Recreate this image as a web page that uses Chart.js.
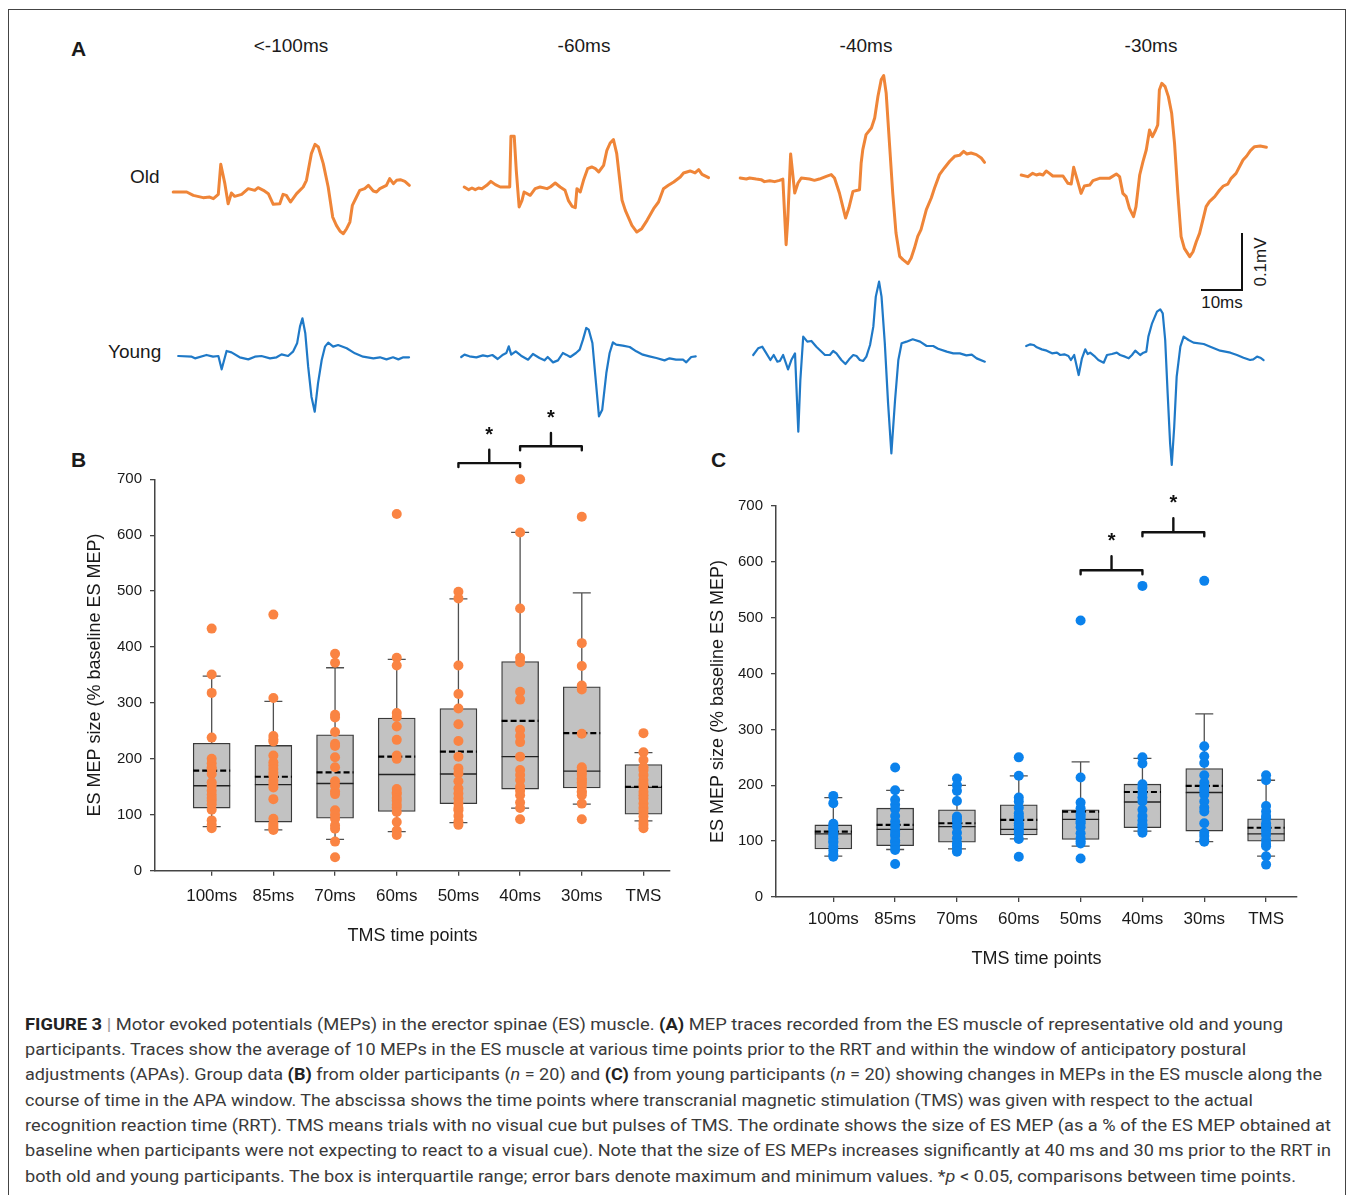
<!DOCTYPE html>
<html>
<head>
<meta charset="utf-8">
<script src="https://cdn.jsdelivr.net/npm/chart.js@4.4.1/dist/chart.umd.min.js"></script>
<style>
html, body { margin: 0; padding: 0; background: #fff; }
body { width: 1354px; height: 1195px; position: relative; overflow: hidden; font-family: 'Liberation Sans', Arial, sans-serif; color: #1a1a1a; }
.frame { position: absolute; left: 8px; top: 9px; width: 1336px; height: 1300px; border: 1.5px solid #444; }
.t { position: absolute; white-space: nowrap; line-height: 1; }
.c { transform: translate(-50%, -50%); }
.l { transform: translate(0, -50%); }
canvas { position: absolute; }
.bar { position: absolute; background: #111; }
.cap { position: absolute; left: 25px; white-space: nowrap; line-height: 1; font-family: 'Liberation Sans Narrow', 'Roboto', sans-serif; font-size: 17px; color: #3a3a3a; transform-origin: 0 50%; }
.cap b { color: #222; }
</style>
</head>
<body>
<div class="frame"></div>

<div class="t l" style="left:71px;top:48px;font-size:21px;font-weight:bold">A</div>
<div class="t l" style="left:71px;top:459px;font-size:21px;font-weight:bold">B</div>
<div class="t l" style="left:711px;top:459px;font-size:21px;font-weight:bold">C</div>

<div class="t c" style="left:291px;top:45px;font-size:19px">&lt;-100ms</div>
<div class="t c" style="left:584px;top:45px;font-size:19px">-60ms</div>
<div class="t c" style="left:866px;top:45px;font-size:19px">-40ms</div>
<div class="t c" style="left:1151px;top:45px;font-size:19px">-30ms</div>
<div class="t l" style="left:130px;top:176px;font-size:19px">Old</div>
<div class="t l" style="left:108px;top:351px;font-size:19px">Young</div>

<div class="bar" style="left:1241px;top:233px;width:2px;height:58px"></div>
<div class="bar" style="left:1201px;top:289px;width:42px;height:2px"></div>
<div class="t c" style="left:1222px;top:302px;font-size:17px">10ms</div>
<div class="t" style="left:1260px;top:262px;font-size:17px;transform:translate(-50%,-50%) rotate(-90deg)">0.1mV</div>

<canvas id="o1" width="260" height="260" style="left:165px;top:62px"></canvas>
<canvas id="y1" width="260" height="260" style="left:170px;top:226px"></canvas>
<canvas id="o2" width="260" height="260" style="left:456px;top:57px"></canvas>
<canvas id="y2" width="260" height="260" style="left:453px;top:227px"></canvas>
<canvas id="o3" width="260" height="260" style="left:732px;top:48px"></canvas>
<canvas id="y3" width="260" height="260" style="left:745px;top:225px"></canvas>
<canvas id="o4" width="260" height="260" style="left:1013px;top:45px"></canvas>
<canvas id="y4" width="260" height="260" style="left:1018px;top:216px"></canvas>

<canvas id="chartB" width="660" height="580" style="left:40px;top:390px"></canvas>
<canvas id="chartC" width="680" height="570" style="left:660px;top:420px"></canvas>

<div class="cap" style="top:1016px"><b>FIGURE 3</b> <span style="color:#999">|</span> Motor evoked potentials (MEPs) in the erector spinae (ES) muscle. <b>(A)</b> MEP traces recorded from the ES muscle of representative old and young</div>
<div class="cap" style="top:1041px">participants. Traces show the average of 10 MEPs in the ES muscle at various time points prior to the RRT and within the window of anticipatory postural</div>
<div class="cap" style="top:1066px">adjustments (APAs). Group data <b>(B)</b> from older participants (<i>n</i> = 20) and <b>(C)</b> from young participants (<i>n</i> = 20) showing changes in MEPs in the ES muscle along the</div>
<div class="cap" style="top:1092px">course of time in the APA window. The abscissa shows the time points where transcranial magnetic stimulation (TMS) was given with respect to the actual</div>
<div class="cap" style="top:1117px">recognition reaction time (RRT). TMS means trials with no visual cue but pulses of TMS. The ordinate shows the size of ES MEP (as a % of the ES MEP obtained at</div>
<div class="cap" style="top:1142px">baseline when participants were not expecting to react to a visual cue). Note that the size of ES MEPs increases significantly at 40 ms and 30 ms prior to the RRT in</div>
<div class="cap" style="top:1168px">both old and young participants. The box is interquartile range; error bars denote maximum and minimum values. *<i>p</i> &lt; 0.05, comparisons between time points.</div>

<script>
// ---- panel A: MEP traces, [time ms, amplitude uV] from trace start ----
const oldTrace100 = [[0,0],[3.3,0],[4.9,-5.9],[7.3,-9.9],[8.9,-8.8],[9.8,-11.7],[11.0,-4.1],[11.6,48.6],[12.6,14.6],[13.4,-20.5],[14.2,-1.8],[15.0,-7.6],[16.7,-4.1],[18.3,5.9],[19.9,2.9],[20.7,7.6],[22.0,2.9],[23.2,-2.9],[24.4,-21.6],[26.0,-20.5],[26.8,-4.1],[27.6,-5.9],[28.6,-17.6],[30.1,-2.9],[31.7,8.8],[32.5,20.5],[33.7,67.3],[34.6,83.7],[35.4,79.0],[36.6,49.7],[37.8,8.8],[38.9,-43.9],[39.8,-58.5],[40.7,-69.0],[41.5,-73.1],[42.3,-64.4],[43.1,-52.7],[43.7,-23.4],[44.7,-8.8],[45.5,2.9],[46.7,5.9],[47.6,11.7],[48.8,1.8],[49.6,0],[50.4,5.9],[52.0,11.7],[52.8,23.4],[53.7,14.6],[54.5,20.5],[55.4,21.6],[56.5,18.7],[57.6,11.7]];
const youngTrace100 = [[0,0],[3.3,-1.2],[4.1,-4.1],[6.9,1.8],[8.5,-1.2],[9.8,0],[10.6,-23.4],[11.8,8.8],[13.0,6.4],[15.0,-2.3],[17.1,-5.9],[18.7,-1.2],[20.3,0],[22.4,-4.1],[24.0,-2.3],[25.2,2.9],[26.8,0],[28.0,7.6],[29.0,22.2],[29.7,51.5],[30.3,66.1],[31.0,39.8],[31.7,-18.7],[32.5,-71.4],[33.3,-97.7],[34.1,-48.0],[35.0,-7.0],[35.8,16.4],[36.6,23.4],[37.8,16.4],[39.0,19.3],[41.1,13.5],[43.1,4.7],[45.1,-1.2],[47.6,-4.1],[49.2,-2.3],[50.8,-5.9],[52.4,-2.3],[53.7,-5.9],[54.9,-2.3],[56.3,-2.3]];
const oldTrace60 = [[0,0],[1.1,-4.7],[1.9,-1.8],[2.7,-4.7],[3.5,-1.8],[4.3,-2.9],[5.5,2.9],[6.5,9.9],[7.6,4.1],[8.8,0],[11.1,0],[11.4,88.9],[12.2,88.9],[12.7,29.3],[13.4,-35.1],[14.1,-23.4],[14.6,-8.8],[16.1,-14.6],[17.3,-2.9],[18.5,0],[20.2,-2.9],[21.0,0],[22.2,7.0],[23.4,0],[24.6,-5.9],[25.4,-23.4],[26.3,-33.9],[27.1,-36.3],[27.5,-2.9],[28.3,-8.8],[29.1,11.7],[30.1,32.2],[31.1,35.1],[32.0,32.2],[32.8,26.3],[34.0,38.0],[34.8,64.4],[35.6,77.2],[36.4,83.1],[37.2,58.5],[38.5,-23.4],[39.3,-41.0],[40.9,-67.3],[42.1,-79.0],[43.3,-73.1],[44.6,-58.5],[46.2,-38.0],[47.4,-26.3],[48.6,-2.9],[49.8,2.9],[51.1,8.8],[52.7,17.6],[53.5,24.6],[55.1,28.1],[56.3,24.6],[57.2,30.4],[58.0,22.2],[59.6,16.4]];
const youngTrace60 = [[0,0],[0.8,4.1],[2.0,1.2],[3.7,-0.6],[5.3,2.9],[6.5,1.2],[7.6,3.5],[8.9,-3.5],[10.2,4.1],[11.0,7.0],[11.6,18.7],[12.2,4.1],[13.3,9.9],[14.6,2.3],[16.3,-4.7],[17.5,5.3],[19.1,-1.8],[20.3,-5.9],[21.1,0],[22.4,-9.4],[23.6,-5.9],[24.8,7.0],[25.6,4.1],[26.6,0],[28.0,7.0],[28.9,12.9],[29.7,30.4],[30.5,50.9],[31.1,48.0],[32.0,24.6],[32.8,-39.8],[33.6,-104.1],[34.4,-92.4],[35.4,-28.1],[36.2,7.0],[37.0,25.7],[37.8,21.6],[39.4,19.9],[41.1,17.6],[42.7,9.9],[44.3,4.1],[45.9,1.2],[47.6,-1.8],[49.6,-5.9],[50.8,-2.3],[52.4,-4.7],[54.1,-4.7],[54.9,-9.4],[56.1,0],[57.2,1.2]];
const oldTrace40 = [[0,0],[1.5,-1.8],[2.3,0],[3.9,-1.8],[5.1,-2.9],[5.9,-6.4],[7.2,-4.7],[8.4,-6.4],[9.6,-4.1],[10.4,-1.8],[11.2,-117],[11.6,-73.1],[12.3,42.1],[12.7,14.6],[13.3,-26.3],[14.1,-8.8],[14.9,0],[16.9,-1.8],[18.1,-4.1],[19.3,-1.8],[21.0,2.9],[22.2,5.9],[23.0,0],[24.2,-26.3],[25.0,-49.7],[25.7,-70.2],[26.5,-52.7],[27.5,-23.4],[29.1,-20.5],[29.5,26.3],[29.9,49.7],[30.7,76.1],[32.0,87.8],[32.8,105.3],[33.6,143.3],[34.4,172.6],[35.0,179.6],[35.6,149.2],[36.4,61.4],[37.2,-26.3],[38.0,-96.5],[38.9,-137.5],[39.7,-143.3],[40.9,-150.3],[41.7,-140.4],[42.5,-122.9],[43.3,-102.4],[44.1,-90.7],[45.4,-55.6],[46.6,-35.1],[47.4,-17.6],[48.6,5.9],[49.8,17.6],[51.1,29.3],[52.3,38.0],[53.5,39.8],[54.5,46.8],[55.3,42.1],[56.3,43.9],[57.6,41.0],[58.8,35.1],[59.6,27.5]];
const youngTrace40 = [[0,0],[1.2,11.7],[2.2,14.6],[3.1,4.1],[4.2,-8.8],[5.0,0],[5.9,-11.7],[6.5,-10.5],[7.3,0],[8.0,-14.6],[8.5,-25.2],[9.3,-8.8],[10.2,2.9],[11.0,-134.6],[11.5,-43.9],[12.2,32.2],[13.2,23.4],[14.2,24.6],[15.4,14.6],[17.5,0],[18.7,0],[19.5,7.0],[20.3,2.9],[21.5,-8.8],[22.5,-15.8],[23.4,-7.6],[24.4,0],[25.2,-1.8],[26.0,-8.8],[26.8,-10.5],[27.6,-2.9],[28.5,17.6],[29.3,49.7],[29.9,102.4],[30.7,128.7],[31.3,102.4],[32.1,20.5],[32.9,-84.8],[33.7,-172.6],[34.6,-79.0],[35.4,-8.8],[36.2,20.5],[37.4,23.4],[38.9,27.5],[40.7,23.4],[42.3,15.8],[43.9,15.8],[45.1,11.1],[47.2,5.9],[48.8,2.9],[50.4,2.9],[52.0,-0.6],[53.3,0.6],[54.5,-5.9],[56.5,-11.7]];
const oldTrace30 = [[0,0],[1.6,-2.9],[2.8,2.9],[3.7,0],[4.5,1.8],[5.3,0],[6.1,7.0],[6.9,2.9],[7.7,-1.8],[10.2,-1.8],[11.4,-14.6],[12.2,-15.8],[12.8,13.5],[13.8,-11.7],[14.6,-32.2],[15.4,-19.3],[16.7,-17.6],[17.5,-9.9],[19.1,-5.9],[21.5,-5.9],[23.2,1.8],[24.0,-2.9],[24.8,-32.2],[25.6,-38.0],[26.4,-58.5],[27.4,-73.1],[28.0,-55.6],[28.9,0],[29.7,23.4],[30.5,43.9],[31.3,79.0],[32.0,67.3],[32.8,79.0],[33.3,87.8],[33.7,149.2],[34.3,160.9],[35.1,155.0],[35.9,137.5],[36.7,108.2],[37.4,55.6],[38.2,-32.2],[39.0,-108.2],[39.8,-128.7],[41.1,-143.3],[41.9,-134.6],[42.7,-117.0],[43.5,-102.4],[44.3,-79.0],[45.1,-55.6],[45.9,-46.8],[47.2,-38.0],[48.4,-26.3],[49.3,-19.3],[50.4,-15.8],[51.2,-5.9],[52.4,2.9],[54.1,26.3],[55.0,33.3],[55.9,42.7],[56.9,49.7],[58.3,50.9],[59.8,48.6]];
const youngTrace30 = [[0,0],[1.0,2.9],[1.8,1.8],[2.6,-2.3],[3.8,-5.9],[5.0,-8.2],[6.3,-12.9],[7.5,-11.7],[8.3,-15.8],[9.3,-14.6],[10.3,-17.6],[10.9,-24.6],[11.7,-15.8],[12.8,-50.9],[13.6,-21.6],[14.4,-5.9],[15.0,-14.0],[15.6,-11.7],[16.8,-18.7],[17.6,-24.6],[18.9,-29.3],[19.7,-15.8],[20.9,-14.0],[22.1,-11.7],[22.9,-15.8],[24.1,-18.7],[25.0,-21.6],[25.8,-15.8],[26.6,-8.2],[27.8,-15.8],[28.6,-11.7],[29.3,-9.9],[29.8,16.4],[30.7,39.8],[31.9,60.3],[32.7,64.4],[33.3,57.3],[33.9,10.5],[34.5,-83.1],[35.1,-170.8],[35.5,-208.8],[36.1,-141.6],[36.7,-53.8],[37.6,-1.2],[38.4,16.4],[39.6,10.5],[40.8,5.9],[43.3,3.5],[44.9,-1.2],[47.3,-8.2],[49.8,-11.7],[51.4,-15.8],[53.0,-20.5],[54.6,-24.6],[55.4,-23.4],[56.3,-18.7],[57.1,-20.5],[57.9,-24.6]];

// ---- panels B and C: box plots ----
const categories = ['100ms', '85ms', '70ms', '60ms', '50ms', '40ms', '30ms', 'TMS'];

const oldMin  = [79, 73, 56, 70, 86, 112, 119, 89];
const oldQ1   = [112, 87, 94, 106, 120, 146, 148, 101];
const oldMed  = [152, 154, 156, 172, 173, 204, 178, 149];
const oldMean = [179, 168, 176, 204, 213, 268, 246, 150];
const oldQ3   = [228, 224, 243, 273, 290, 374, 329, 190];
const oldMax  = [348, 303, 363, 378, 486, 605, 497, 211];
const oldPoints = [
  [433, 351, 318, 238, 200, 192, 185, 182, 173, 158, 152, 143, 136, 130, 125, 119, 109, 90, 82, 76],
  [458, 309, 241, 235, 231, 206, 194, 188, 182, 175, 170, 161, 155, 149, 128, 93, 84, 80, 76, 73],
  [388, 372, 279, 274, 248, 227, 223, 203, 185, 160, 152, 142, 137, 108, 100, 93, 81, 75, 52, 24],
  [638, 381, 367, 282, 275, 258, 234, 206, 200, 146, 140, 137, 130, 125, 118, 113, 105, 87, 72, 64],
  [499, 487, 367, 316, 290, 262, 232, 204, 183, 174, 160, 147, 138, 129, 120, 112, 108, 98, 88, 82],
  [700, 605, 469, 381, 373, 320, 306, 252, 241, 230, 204, 180, 171, 162, 150, 143, 135, 122, 112, 92],
  [633, 407, 366, 331, 324, 245, 185, 181, 175, 171, 165, 162, 158, 155, 150, 142, 140, 135, 120, 92],
  [246, 212, 198, 185, 180, 171, 162, 155, 150, 141, 135, 129, 120, 112, 105, 97, 88, 82, 76]
];
const oldBrFrom = [4, 5];
const oldBrTo = [5, 6];
const oldBrLevel = [729, 759];
const oldBrStem = [753, 783];
const oldBrStar = [789, 818];

const youngMin  = [73, 85, 86, 104, 91, 118, 99, 73];
const youngQ1   = [86, 92, 98, 111, 103, 124, 118, 100];
const youngMed  = [113, 121, 126, 121, 139, 170, 187, 113];
const youngMean = [117, 129, 132, 138, 153, 188, 199, 124];
const youngQ3   = [129, 159, 156, 165, 156, 202, 230, 140];
const youngMax  = [178, 191, 200, 217, 242, 248, 328, 209];
const youngPoints = [
  [181, 168, 131, 127, 123, 120, 114, 110, 105, 100, 97, 90, 83, 76, 72],
  [232, 191, 174, 165, 157, 145, 135, 127, 119, 113, 109, 101, 98, 91, 84, 59],
  [212, 200, 190, 172, 144, 140, 135, 126, 115, 105, 96, 92, 87, 81],
  [250, 217, 178, 171, 160, 150, 145, 141, 132, 128, 123, 118, 114, 104, 72],
  [495, 214, 169, 159, 149, 145, 140, 135, 132, 125, 114, 105, 100, 96, 69],
  [557, 250, 239, 202, 195, 186, 178, 171, 156, 145, 137, 130, 126, 120, 115],
  [566, 270, 252, 240, 218, 205, 197, 190, 183, 171, 160, 153, 132, 115, 109, 102, 99],
  [218, 209, 163, 153, 145, 141, 132, 128, 123, 118, 111, 102, 95, 91, 73, 58]
];
const youngBrFrom = [4, 5];
const youngBrTo = [5, 6];
const youngBrLevel = [585, 653];
const youngBrStem = [610, 678];
const youngBrStar = [646, 714];

Chart.defaults.font.family = "'Liberation Sans', Arial, sans-serif";
Chart.defaults.color = '#1a1a1a';

// 4.1 px per ms, 0.57 px per uV (scale bar: 10ms / 0.1mV)
function drawTrace(id, trace, color, width) {
    new Chart(document.getElementById(id), {
        type: 'line',
        data: {
            datasets: [{
                data: trace.map(p => ({ x: p[0], y: p[1] })),
                borderColor: color,
                borderWidth: width,
                pointRadius: 0,
                tension: 0,
                borderJoinStyle: 'round',
                borderCapStyle: 'round'
            }]
        },
        options: {
            responsive: false,
            animation: false,
            events: [],
            layout: { padding: 0 },
            plugins: { legend: { display: false }, tooltip: { enabled: false } },
            scales: {
                x: { type: 'linear', display: false, min: -2, max: -2 + 260 / 4.1 },
                y: { type: 'linear', display: false, min: -130 / 0.57, max: 130 / 0.57 }
            }
        }
    });
}

function boxExtras(stats, brackets) {
    return {
        id: 'boxExtras',
        afterDatasetDraw(chart, args) {
            if (args.meta.type !== 'bar') return;
            const ctx = chart.ctx, x = chart.scales.x, y = chart.scales.y;
            ctx.save();
            stats.med.forEach((m, i) => {
                const cx = x.getPixelForValue(i);
                ctx.strokeStyle = '#505050';
                ctx.lineWidth = 1.3;
                ctx.setLineDash([]);
                ctx.beginPath();
                ctx.moveTo(cx, y.getPixelForValue(stats.q3[i]));
                ctx.lineTo(cx, y.getPixelForValue(stats.max[i]));
                ctx.moveTo(cx - 9, y.getPixelForValue(stats.max[i]));
                ctx.lineTo(cx + 9, y.getPixelForValue(stats.max[i]));
                ctx.moveTo(cx, y.getPixelForValue(stats.q1[i]));
                ctx.lineTo(cx, y.getPixelForValue(stats.min[i]));
                ctx.moveTo(cx - 9, y.getPixelForValue(stats.min[i]));
                ctx.lineTo(cx + 9, y.getPixelForValue(stats.min[i]));
                ctx.stroke();

                ctx.strokeStyle = '#222';
                ctx.lineWidth = 1.4;
                ctx.beginPath();
                ctx.moveTo(cx - 18.5, y.getPixelForValue(m));
                ctx.lineTo(cx + 18.5, y.getPixelForValue(m));
                ctx.stroke();

                ctx.strokeStyle = '#000';
                ctx.lineWidth = 2.2;
                ctx.setLineDash([6, 3]);
                ctx.beginPath();
                ctx.moveTo(cx - 18.5, y.getPixelForValue(stats.mean[i]));
                ctx.lineTo(cx + 18.5, y.getPixelForValue(stats.mean[i]));
                ctx.stroke();
            });
            ctx.restore();
        },
        afterDraw(chart) {
            const ctx = chart.ctx, x = chart.scales.x, y = chart.scales.y;
            ctx.save();
            ctx.strokeStyle = '#111';
            ctx.fillStyle = '#111';
            ctx.lineWidth = 2.4;
            ctx.lineCap = 'round';
            ctx.lineJoin = 'round';
            ctx.font = "bold 20px 'Liberation Sans', Arial, sans-serif";
            ctx.textAlign = 'center';
            ctx.textBaseline = 'alphabetic';
            brackets.from.forEach((f, k) => {
                const x1 = x.getPixelForValue(f), x2 = x.getPixelForValue(brackets.to[k]);
                const yl = y.getPixelForValue(brackets.level[k]);
                const mid = (x1 + x2) / 2;
                ctx.beginPath();
                ctx.moveTo(x1, yl + 4);
                ctx.lineTo(x1, yl);
                ctx.lineTo(x2, yl);
                ctx.lineTo(x2, yl + 4);
                ctx.moveTo(mid, yl);
                ctx.lineTo(mid, y.getPixelForValue(brackets.stem[k]));
                ctx.stroke();
                ctx.fillText('*', mid, y.getPixelForValue(brackets.star[k]) + 11);
            });
            ctx.restore();
        }
    };
}

function drawBoxChart(id, stats, points, brackets, color, lay) {
    const dots = [];
    points.forEach((vals, i) => vals.forEach(v => dots.push({ x: i, y: v })));
    const axisGrid = { display: true, drawOnChartArea: false, drawTicks: true, tickLength: 5, color: '#444', lineWidth: 1.3, offset: false };
    const axisBorder = { display: true, color: '#444', width: 1.5 };

    new Chart(document.getElementById(id), {
        type: 'scatter',
        data: {
            datasets: [{
                type: 'scatter',
                data: dots,
                backgroundColor: color,
                borderWidth: 0,
                pointRadius: 5,
                pointHoverRadius: 5,
                clip: false,
                order: 0
            }, {
                type: 'bar',
                data: categories.map((c, i) => ({ x: i, y: [stats.q1[i], stats.q3[i]] })),
                backgroundColor: '#c2c2c2',
                borderColor: '#3a3a3a',
                borderWidth: 1.3,
                borderSkipped: false,
                barThickness: 37,
                grouped: false,
                order: 1
            }]
        },
        options: {
            responsive: false,
            animation: false,
            events: [],
            layout: { padding: { top: lay.top, right: lay.right, left: 0, bottom: 0 } },
            plugins: { legend: { display: false }, tooltip: { enabled: false } },
            scales: {
                x: {
                    type: 'linear',
                    offset: false,
                    min: lay.xmin,
                    max: lay.xmax,
                    afterBuildTicks: s => { s.ticks = categories.map((c, i) => ({ value: i })); },
                    afterFit: s => { s.height = lay.xh; },
                    grid: axisGrid,
                    border: axisBorder,
                    ticks: { callback: (v, i) => categories[i], autoSkip: false, maxRotation: 0, padding: lay.xpad, font: { size: 17 } },
                    title: { display: true, text: 'TMS time points', font: { size: 18 }, padding: { top: 0, bottom: lay.xtpad } }
                },
                y: {
                    type: 'linear',
                    min: 0,
                    max: 700,
                    afterFit: s => { s.width = lay.yw; },
                    grid: axisGrid,
                    border: axisBorder,
                    ticks: { stepSize: 100, padding: 8, font: { size: 15 } },
                    title: { display: true, text: 'ES MEP size (% baseline ES MEP)', font: { size: 18 }, padding: { top: lay.ytpad, bottom: 0 } }
                }
            }
        },
        plugins: [boxExtras(stats, brackets)]
    });
}

document.addEventListener('DOMContentLoaded', function () {
    const orange = '#ef8538', blue = '#1f79c7';
    drawTrace('o1', oldTrace100, orange, 3);
    drawTrace('y1', youngTrace100, blue, 2.2);
    drawTrace('o2', oldTrace60, orange, 3);
    drawTrace('y2', youngTrace60, blue, 2.2);
    drawTrace('o3', oldTrace40, orange, 3);
    drawTrace('y3', youngTrace40, blue, 2.2);
    drawTrace('o4', oldTrace30, orange, 3);
    drawTrace('y4', youngTrace30, blue, 2.2);

    drawBoxChart('chartB',
        { min: oldMin, q1: oldQ1, med: oldMed, mean: oldMean, q3: oldQ3, max: oldMax },
        oldPoints,
        { from: oldBrFrom, to: oldBrTo, level: oldBrLevel, stem: oldBrStem, star: oldBrStar },
        '#fa8443',
        { top: 89.3, right: 30, yw: 115, xh: 99.3, xmin: -0.919, xmax: 7.43, xpad: 10, xtpad: 23, ytpad: 44.2 });

    drawBoxChart('chartC',
        { min: youngMin, q1: youngQ1, med: youngMed, mean: youngMean, q3: youngQ3, max: youngMax },
        youngPoints,
        { from: youngBrFrom, to: youngBrTo, level: youngBrLevel, stem: youngBrStem, star: youngBrStar },
        '#0b82ec',
        { top: 86, right: 43, yw: 116, xh: 93, xmin: -0.927, xmax: 7.5, xpad: 7, xtpad: 20, ytpad: 47.2 });

    // caption lines are set in a condensed face; stretch each to the measured line end
    const capEnds = [1283, 1246, 1322, 1253, 1331, 1331, 1296];
    document.querySelectorAll('.cap').forEach((el, i) => {
        const w = el.getBoundingClientRect().width;
        el.style.transform = 'scaleX(' + ((capEnds[i] - 25) / w).toFixed(4) + ')';
    });
});
</script>
</body>
</html>
